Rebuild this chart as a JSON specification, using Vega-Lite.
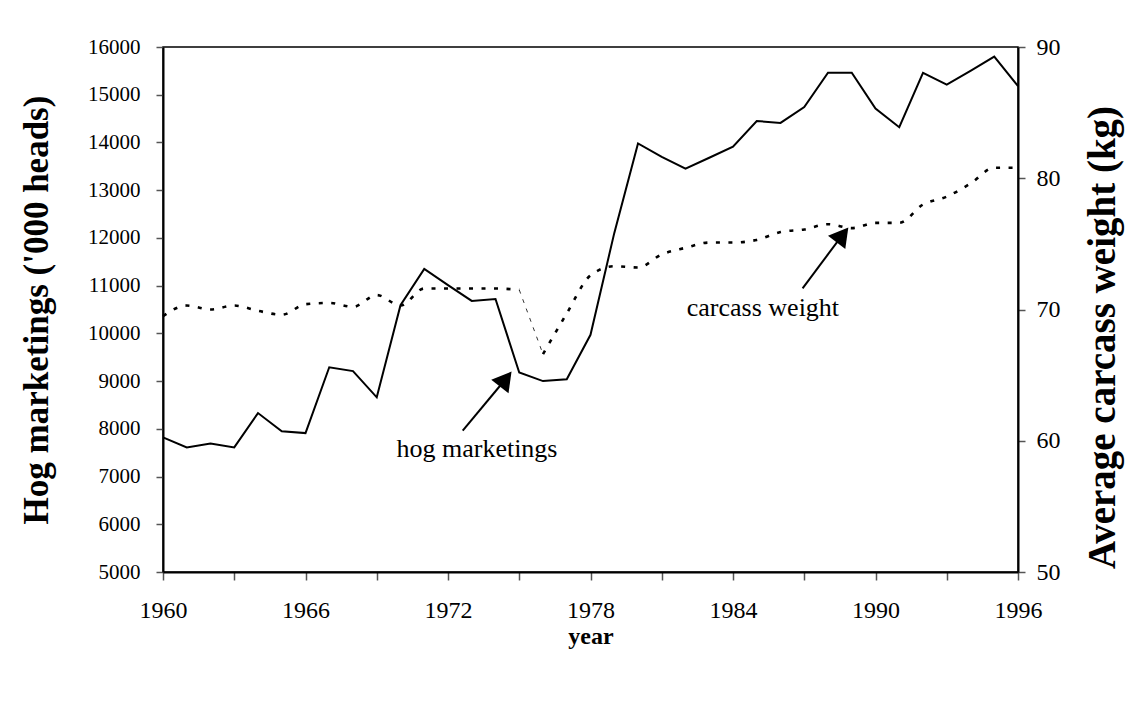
{
  "$schema": "https://vega.github.io/schema/vega-lite/v6.json",
  "width": 855,
  "height": 525,
  "autosize": "none",
  "padding": {"left": 163, "top": 47, "right": 120, "bottom": 134},
  "background": "white",
  "config": {
    "font": "Liberation Serif",
    "view": {"stroke": "black", "strokeWidth": 1.5},
    "axis": {
      "grid": false,
      "labelFont": "Liberation Serif",
      "labelFontSize": 24,
      "labelColor": "black",
      "labelFlush": false,
      "labelOverlap": false,
      "titleFont": "Liberation Serif",
      "titleFontSize": 24,
      "titleFontWeight": "bold",
      "titleColor": "black",
      "domainColor": "black",
      "domainWidth": 2,
      "tickColor": "#555555",
      "tickWidth": 1.5,
      "tickSize": 7
    }
  },
  "datasets": {
    "series": [
      {"year": 1960, "hog": 7820, "carcass": 69.5},
      {"year": 1961, "hog": 7610, "carcass": 70.3},
      {"year": 1962, "hog": 7690, "carcass": 70.0},
      {"year": 1963, "hog": 7610, "carcass": 70.3},
      {"year": 1964, "hog": 8330, "carcass": 69.9},
      {"year": 1965, "hog": 7950, "carcass": 69.6},
      {"year": 1966, "hog": 7910, "carcass": 70.4},
      {"year": 1967, "hog": 9290, "carcass": 70.5},
      {"year": 1968, "hog": 9210, "carcass": 70.2},
      {"year": 1969, "hog": 8660, "carcass": 71.1},
      {"year": 1970, "hog": 10590, "carcass": 70.3},
      {"year": 1971, "hog": 11350, "carcass": 71.6},
      {"year": 1972, "hog": 11010, "carcass": 71.6},
      {"year": 1973, "hog": 10680, "carcass": 71.6},
      {"year": 1974, "hog": 10720, "carcass": 71.6},
      {"year": 1975, "hog": 9180, "carcass": 71.5},
      {"year": 1976, "hog": 9000, "carcass": 66.6},
      {"year": 1977, "hog": 9040, "carcass": 69.7},
      {"year": 1978, "hog": 9970, "carcass": 72.6},
      {"year": 1979, "hog": 12100, "carcass": 73.3},
      {"year": 1980, "hog": 13980, "carcass": 73.2},
      {"year": 1981, "hog": 13700, "carcass": 74.2},
      {"year": 1982, "hog": 13450, "carcass": 74.7},
      {"year": 1983, "hog": 13680, "carcass": 75.1},
      {"year": 1984, "hog": 13910, "carcass": 75.1},
      {"year": 1985, "hog": 14450, "carcass": 75.3},
      {"year": 1986, "hog": 14410, "carcass": 75.9},
      {"year": 1987, "hog": 14740, "carcass": 76.1},
      {"year": 1988, "hog": 15460, "carcass": 76.5},
      {"year": 1989, "hog": 15460, "carcass": 76.2},
      {"year": 1990, "hog": 14710, "carcass": 76.6},
      {"year": 1991, "hog": 14320, "carcass": 76.6},
      {"year": 1992, "hog": 15460, "carcass": 78.0},
      {"year": 1993, "hog": 15210, "carcass": 78.6},
      {"year": 1994, "hog": 15500, "carcass": 79.6},
      {"year": 1995, "hog": 15800, "carcass": 80.8},
      {"year": 1996, "hog": 15180, "carcass": 80.8}
    ],
    "arrows": [
      {"label": "hog marketings", "tailYear": 1972.62, "tailValue": 7960, "headYear": 1974.43, "headValue": 9044, "textYear": 1973.22, "textValue": 7577},
      {"label": "carcass weight", "tailYear": 1986.93, "tailValue": 10944, "headYear": 1988.61, "headValue": 12063, "textYear": 1985.26, "textValue": 10531}
    ]
  },
  "layer": [
    {
      "layer": [
        {
          "data": {"name": "series"},
          "mark": {"type": "line", "color": "black", "strokeWidth": 2},
          "encoding": {
            "x": {
              "field": "year", "type": "quantitative",
              "scale": {"domain": [1960, 1996], "nice": false, "zero": false},
              "axis": {
                "title": "year",
                "values": [1960, 1963, 1966, 1969, 1972, 1975, 1978, 1981, 1984, 1987, 1990, 1993, 1996],
                "labelExpr": "(datum.value - 1960) % 6 == 0 ? format(datum.value, 'd') : ''",
                "tickSize": 8,
                "labelPadding": 18,
                "titlePadding": 2
              }
            },
            "y": {
              "field": "hog", "type": "quantitative",
              "scale": {"domain": [5000, 16000], "nice": false, "zero": false},
              "axis": {
                "title": "Hog marketings ('000 heads)",
                "titleFontSize": 35,
                "labelFontSize": 21,
                "values": [5000, 6000, 7000, 8000, 9000, 10000, 11000, 12000, 13000, 14000, 15000, 16000],
                "format": "d",
                "labelPadding": 16,
                "titlePadding": 33
              }
            }
          }
        },
        {
          "data": {"name": "arrows"},
          "mark": {"type": "rule", "color": "black", "strokeWidth": 2},
          "encoding": {
            "x": {"field": "tailYear", "type": "quantitative"},
            "y": {"field": "tailValue", "type": "quantitative"},
            "x2": {"field": "headYear"},
            "y2": {"field": "headValue"}
          }
        },
        {
          "data": {"name": "arrows"},
          "mark": {"type": "point", "shape": "triangle-up", "filled": true, "color": "black", "opacity": 1, "size": 480, "angle": 38},
          "encoding": {
            "x": {"field": "headYear", "type": "quantitative"},
            "y": {"field": "headValue", "type": "quantitative"}
          }
        },
        {
          "data": {"name": "arrows"},
          "mark": {"type": "text", "font": "Liberation Serif", "fontSize": 26, "color": "black", "baseline": "middle", "align": "center"},
          "encoding": {
            "x": {"field": "textYear", "type": "quantitative"},
            "y": {"field": "textValue", "type": "quantitative"},
            "text": {"field": "label"}
          }
        }
      ]
    },
    {
      "data": {"name": "series"},
      "encoding": {
        "x": {"field": "year", "type": "quantitative", "scale": {"domain": [1960, 1996], "nice": false, "zero": false}},
        "y": {
          "field": "carcass", "type": "quantitative",
          "scale": {"domain": [50, 90], "nice": false, "zero": false},
          "axis": {
            "orient": "right",
            "title": "Average carcass weight (kg)",
            "titleFontSize": 39,
            "titleAngle": 270,
            "titleBaseline": "top",
            "titleY": 290,
            "values": [50, 60, 70, 80, 90],
            "labelPadding": 11,
            "titlePadding": 23
          }
        }
      },
      "layer": [
        {
          "transform": [{"filter": "datum.year <= 1975"}],
          "mark": {"type": "line", "color": "black", "strokeWidth": 2.6, "strokeDash": [4, 8.5], "interpolate": "monotone"}
        },
        {
          "transform": [{"filter": "datum.year >= 1976"}],
          "mark": {"type": "line", "color": "black", "strokeWidth": 2.6, "strokeDash": [4, 8.5], "interpolate": "monotone"}
        },
        {
          "transform": [{"filter": "datum.year >= 1975 && datum.year <= 1976"}],
          "mark": {"type": "line", "color": "black", "strokeWidth": 0.8, "strokeDash": [4, 6]}
        }
      ]
    }
  ],
  "resolve": {"scale": {"y": "independent"}}
}
